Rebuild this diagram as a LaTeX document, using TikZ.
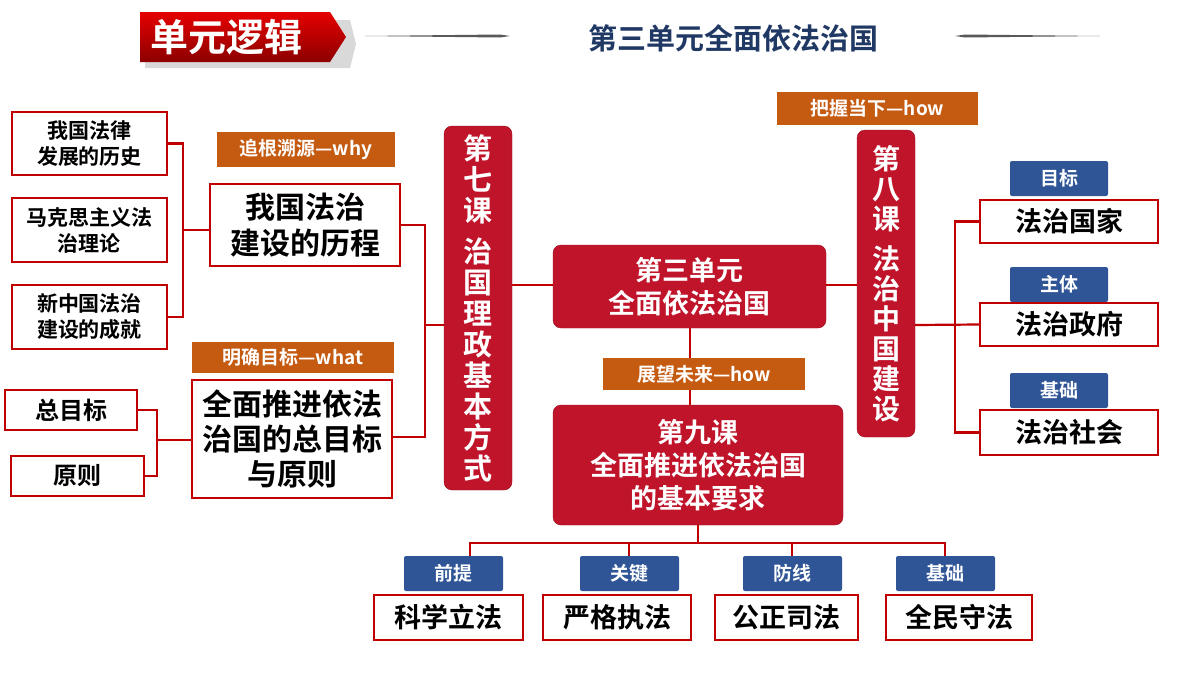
\documentclass[tikz,border=0pt]{standalone}
\usepackage{fontspec}
\setmainfont{Noto Sans CJK SC}[BoldFont={Noto Sans CJK SC Bold}]
\definecolor{cred}{HTML}{C0142A}
\definecolor{bred}{HTML}{C00000}
\definecolor{corg}{HTML}{C55A11}
\definecolor{cblue}{HTML}{2F5597}
\definecolor{navy}{HTML}{1F3864}
\begin{document}
\begin{tikzpicture}[x=1pt,y=-1pt,
 wb/.style={draw=bred,line width=2pt,fill=white,inner sep=0pt,align=center,font=\bfseries},
 rr/.style={fill=cred,draw=cred!80!black,rounded corners=8pt,text=white,inner sep=0pt,align=center,font=\bfseries},
 og/.style={fill=corg,text=white,inner sep=0pt,font=\bfseries\fontsize{19}{22}\selectfont},
 bl/.style={fill=cblue,text=white,inner sep=0pt,rounded corners=2pt,font=\bfseries\fontsize{19}{22}\selectfont},
 ln/.style={draw=bred,line width=2.2pt}]
\useasboundingbox (0,0) rectangle (1200,675);
% title
\fill[gray!30] (145,20) -- (350,20) -- (356,44) -- (350,68) -- (145,68) -- cycle;
\shade[top color=red!90!black,bottom color=red!55!black] (140,12) -- (330,12) -- (346,37) -- (330,62) -- (140,62) -- cycle;
\node[text=white,font=\bfseries\fontsize{38}{40}\selectfont] (t1) at (226,37) {单元逻辑};
\fill[gray!70!black] (365,36) -- (500,34.5) -- (510,36) -- (500,37.5) -- cycle;
\fill[gray!70!black] (1100,36) -- (965,34.5) -- (955,36) -- (965,37.5) -- cycle;
\node[text=navy,font=\bfseries\fontsize{29}{31}\selectfont] (t2) at (733,38) {第三单元全面依法治国};
% left
\node[wb,minimum width=155,minimum height=63,font=\bfseries\fontsize{21}{26}\selectfont] (a1) at (89.5,143.5) {我国法律\\发展的历史};
\node[wb,minimum width=155,minimum height=64,font=\bfseries\fontsize{21}{26}\selectfont] (a2) at (89.5,230) {马克思主义法\\治理论};
\node[wb,minimum width=155,minimum height=64,font=\bfseries\fontsize{21}{26}\selectfont] (a3) at (89.5,317) {新中国法治\\建设的成就};
\node[og,minimum width=178,minimum height=35] (o1) at (306,149.5) {追根溯源—why};
\node[wb,minimum width=190,minimum height=82,font=\bfseries\fontsize{30}{36}\selectfont] (b1) at (305,225) {我国法治\\建设的历程};
\node[og,minimum width=202,minimum height=31] (o2) at (293,357.5) {明确目标—what};
\node[wb,minimum width=200,minimum height=118,font=\bfseries\fontsize{30}{35}\selectfont] (b2) at (292,439) {全面推进依法\\治国的总目标\\与原则};
\node[wb,minimum width=132,minimum height=40,font=\bfseries\fontsize{24}{26}\selectfont] (c1) at (71,410) {总目标};
\node[wb,minimum width=133,minimum height=40,font=\bfseries\fontsize{24}{26}\selectfont] (c2) at (77.5,476) {原则};
\draw[ln] (a1.east) -- (183,143.5) -- (183,317) -- (a3.east);
\draw[ln] (183,230) -- (b1.west|-0,230);
\draw[ln] (c1.east) -- (157,410) -- (157,476) -- (c2.east);
\draw[ln] (157,440) -- (b2.west|-0,440);
\draw[ln] (b1.east) -- (425,225) -- (425,437) -- (b2.east|-0,437);
% lesson 7
\node[rr,minimum width=68,minimum height=364,font=\bfseries\fontsize{29}{31}\selectfont] (l7) at (478,308) {第\\七\\课\\[10pt]治\\国\\理\\政\\基\\本\\方\\式};
\draw[ln] (425,325) -- (l7.west|-0,325);
% center
\node[rr,minimum width=273,minimum height=83,font=\bfseries\fontsize{27}{33}\selectfont] (c) at (689.5,286.5) {第三单元\\全面依法治国};
\node[rr,minimum width=58,minimum height=307,font=\bfseries\fontsize{28}{30}\selectfont] (l8) at (886,283.5) {第\\八\\课\\[10pt]法\\治\\中\\国\\建\\设};
\draw[ln] (l7.east|-0,285) -- (c.west|-0,285);
\draw[ln] (c.east|-0,285) -- (l8.west|-0,285);
\node[og,minimum width=201,minimum height=33] (o3) at (877.5,108.5) {把握当下—how};
\node[og,minimum width=202,minimum height=32] (o4) at (704,374) {展望未来—how};
\node[rr,minimum width=290,minimum height=120,font=\bfseries\fontsize{27}{33}\selectfont] (l9) at (698,465) {第九课\\全面推进依法治国\\的基本要求};
\draw[ln] (690,328) -- (690,358);
\draw[ln] (690,390) -- (690,405);
% right
\node[bl,minimum width=98,minimum height=35] (r1) at (1059,178.5) {目标};
\node[wb,minimum width=178,minimum height=43,font=\bfseries\fontsize{27}{30}\selectfont] (s1) at (1069,221.5) {法治国家};
\node[bl,minimum width=98,minimum height=35] (r2) at (1059,284.5) {主体};
\node[wb,minimum width=178,minimum height=43,font=\bfseries\fontsize{27}{30}\selectfont] (s2) at (1069,324.5) {法治政府};
\node[bl,minimum width=98,minimum height=35] (r3) at (1059,390.5) {基础};
\node[wb,minimum width=178,minimum height=45,font=\bfseries\fontsize{27}{30}\selectfont] (s3) at (1069,432.5) {法治社会};
\draw[ln] (s1.west) -- (955,221.5) -- (955,432.5) -- (s3.west);
\draw[ln] (l8.east|-0,325) -- (s2.west);
% bottom
\node[bl,minimum width=99,minimum height=35] (p1) at (453.5,573.5) {前提};
\node[bl,minimum width=99,minimum height=35] (p2) at (629.5,573.5) {关键};
\node[bl,minimum width=99,minimum height=35] (p3) at (792.5,573.5) {防线};
\node[bl,minimum width=99,minimum height=35] (p4) at (945.5,573.5) {基础};
\node[wb,minimum width=149,minimum height=45,font=\bfseries\fontsize{27}{30}\selectfont] (q1) at (448.5,617.5) {科学立法};
\node[wb,minimum width=148,minimum height=45,font=\bfseries\fontsize{27}{30}\selectfont] (q2) at (617,617.5) {严格执法};
\node[wb,minimum width=143,minimum height=45,font=\bfseries\fontsize{27}{30}\selectfont] (q3) at (786.5,617.5) {公正司法};
\node[wb,minimum width=146,minimum height=45,font=\bfseries\fontsize{27}{30}\selectfont] (q4) at (959,617.5) {全民守法};
\draw[ln] (l9.south) -- (698,543);
\draw[ln] (470,556) -- (470,543) -- (945,543) -- (945,556);
\draw[ln] (629,543) -- (629,556);
\draw[ln] (792,543) -- (792,556);
\end{tikzpicture}
\end{document}
